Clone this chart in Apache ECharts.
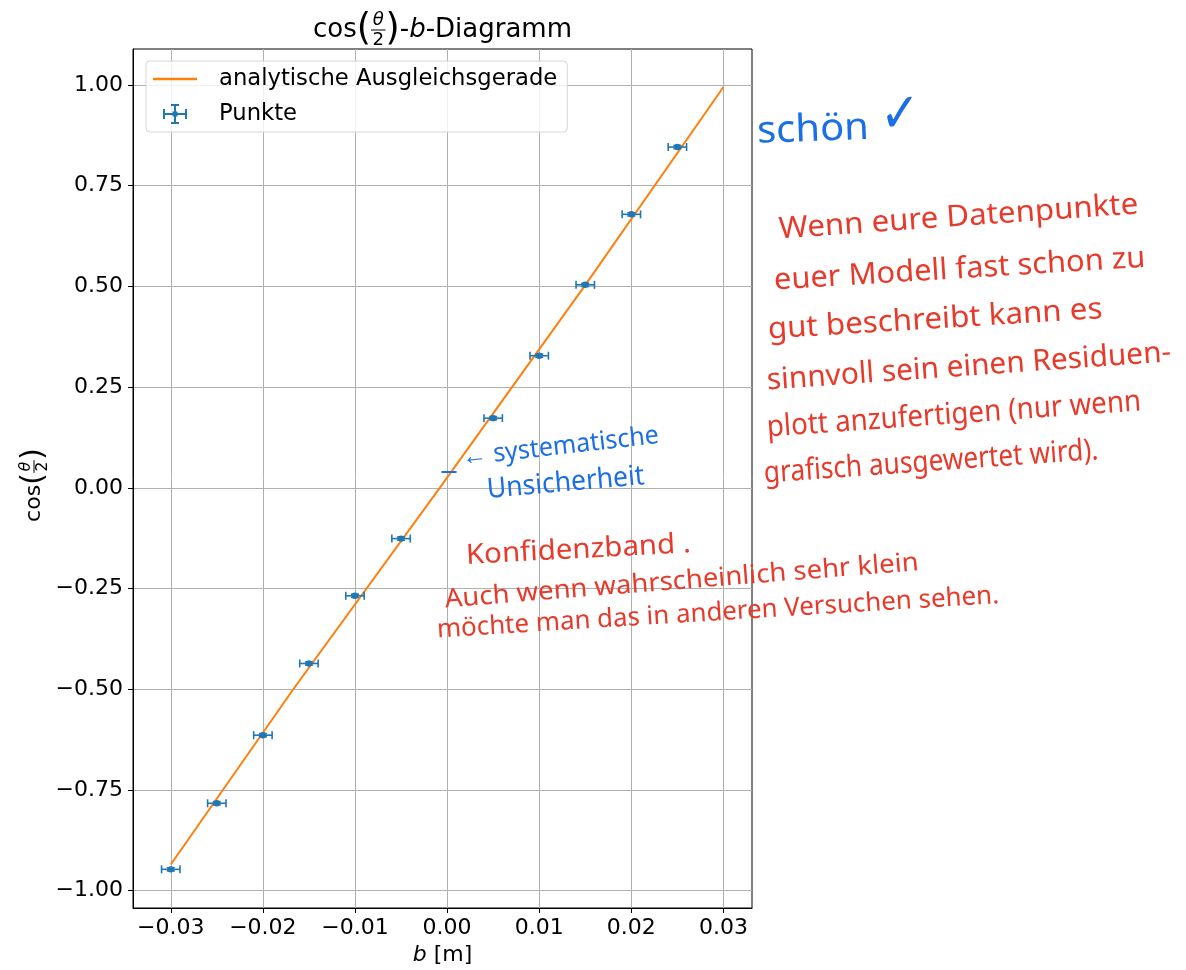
<!DOCTYPE html>
<html>
<head>
<meta charset="utf-8">
<title>cos(θ/2)-b-Diagramm</title>
<script src="https://cdn.jsdelivr.net/npm/echarts@6/dist/echarts.min.js"></script>
<style>
  html, body { margin: 0; padding: 0; background: #fff; }
  #main { width: 1186px; height: 970px; }
</style>
</head>
<body>
<div id="main"></div>
<script>
// Messpunkte
var bValues = [-0.03, -0.025, -0.02, -0.015, -0.01, -0.005, 0.005, 0.01, 0.015, 0.02, 0.025];
var cosValues = [-0.947, -0.783, -0.614, -0.436, -0.268, -0.126, 0.173, 0.328, 0.504, 0.679, 0.846];
var bErrors = [0.001, 0.001, 0.001, 0.001, 0.001, 0.001, 0.001, 0.001, 0.001, 0.001, 0.001];
var cosErrors = [0.004, 0.004, 0.004, 0.004, 0.004, 0.004, 0.004, 0.004, 0.004, 0.004, 0.004];

// Ausgleichsgerade
var fitB = [-0.03, -0.0167, -0.0008, 0.0149, 0.03];
var fitCos = [-0.935, -0.5, 0, 0.5, 0.995];

// Achsen
var xTicks = [-0.03, -0.02, -0.01, 0, 0.01, 0.02, 0.03];
var yTicks = [-1, -0.75, -0.5, -0.25, 0, 0.25, 0.5, 0.75, 1];

var FONT = '"DejaVu Sans", sans-serif';
var RED = '#e83a2b';
var BLUE = '#1b6fe6';

var ctx = document.createElement('canvas').getContext('2d');
function textWidth(s, font) {
  ctx.font = font;
  return ctx.measureText(s).width;
}

function fmt(v) {
  return v.toFixed(2).replace('-', '\u2212');
}

// baut cos(θ/2) + Rest als graphic-Kinder, Mittellinie bei y=0
function mathLabel(fs, rest) {
  var kids = [];
  var x = 0;
  function put(str, size, style, dx, dy) {
    var f = (style || 'normal') + ' ' + size + 'px ' + FONT;
    kids.push({
      type: 'text', x: x + (dx || 0), y: dy || 0,
      style: { text: str, font: f, fill: '#000', align: 'left', verticalAlign: 'middle',
               textAlign: 'left', textVerticalAlign: 'middle' }
    });
    x += textWidth(str, f);
  }
  put('cos', fs);
  put('(', fs * 1.4, 'normal', 0, fs * 0.02);
  var small = fs * 0.7;
  var fTheta = 'italic ' + small + 'px ' + FONT;
  var w = Math.max(textWidth('\u03b8', fTheta), textWidth('2', small + 'px ' + FONT)) + 3;
  kids.push({ type: 'text', x: x + w / 2, y: -fs * 0.36,
    style: { text: '\u03b8', font: fTheta, fill: '#000', align: 'center', verticalAlign: 'middle',
             textAlign: 'center', textVerticalAlign: 'middle' } });
  kids.push({ type: 'line', shape: { x1: x, y1: 0, x2: x + w, y2: 0 },
    style: { stroke: '#000', lineWidth: 1 } });
  kids.push({ type: 'text', x: x + w / 2, y: fs * 0.4,
    style: { text: '2', font: small + 'px ' + FONT, fill: '#000', align: 'center', verticalAlign: 'middle',
             textAlign: 'center', textVerticalAlign: 'middle' } });
  x += w;
  put(')', fs * 1.4, 'normal', 0, fs * 0.02);
  (rest || []).forEach(function (r) { put(r[0], fs, r[1]); });
  return { children: kids, width: x };
}

var titleMath = mathLabel(26, [['-'], ['b', 'italic'], ['-Diagramm']]);
var yMath = mathLabel(22, []);

// handschriftliche Notizen: [text, x, y, breite, größe, drehung°, farbe]
var notes = [
  ['sch\u00f6n', 757, 132, 112, 38, 2, BLUE],
  ['\u2713', 880, 116, 40, 56, 0, BLUE],
  ['Wenn eure Datenpunkte', 779, 230, 360, 30, 4, RED],
  ['euer Modell fast schon zu', 774, 281, 372, 30, 3.5, RED],
  ['gut beschreibt kann es', 768, 330, 335, 30, 3.5, RED],
  ['sinnvoll sein einen Residuen-', 767, 381, 405, 30, 4, RED],
  ['plott anzufertigen (nur wenn', 767, 428, 375, 30, 4, RED],
  ['grafisch ausgewertet wird).', 764, 474, 335, 30, 4, RED],
  ['\u2013', 440, 472, 18, 26, 0, BLUE],
  ['\u2190 systematische', 462, 458, 198, 26, 6.5, BLUE],
  ['Unsicherheit', 487, 490, 158, 28, 5, BLUE],
  ['Konfidenzband .', 466, 556, 225, 28, 3, RED],
  ['Auch wenn wahrscheinlich sehr klein', 445, 600, 475, 26, 4.5, RED],
  ['m\u00f6chte man das in anderen Versuchen sehen.', 437, 630, 563, 26, 3.5, RED]
];

var graphics = [
  { type: 'group', x: 442.5 - titleMath.width / 2, y: 30, children: titleMath.children },
  { type: 'group', x: 34, y: 485 + yMath.width / 2, rotation: Math.PI / 2, children: yMath.children }
];
notes.forEach(function (n) {
  var f = n[4] + 'px "Noto Sans", sans-serif';
  var sx = n[3] / textWidth(n[0], f);
  graphics.push({
    type: 'text', x: n[1], y: n[2], rotation: n[5] * Math.PI / 180, scaleX: sx, z: 100,
    style: { text: n[0], font: f, fill: n[6], align: 'left', verticalAlign: 'middle',
             textAlign: 'left', textVerticalAlign: 'middle' }
  });
});

var points = bValues.map(function (b, i) { return [b, cosValues[i], bErrors[i], cosErrors[i]]; });
var fitLine = fitB.map(function (b, i) { return [b, fitCos[i]]; });

var myChart = echarts.init(document.getElementById('main'));

var option = {
  animation: false,
  backgroundColor: '#fff',
  grid: {
    left: 133, right: 434, top: 49, bottom: 62,
    containLabel: false, outerBoundsMode: 'none',
    show: true, borderColor: '#000', borderWidth: 1
  },
  legend: {
    orient: 'vertical', left: 146, top: 61,
    padding: [5, 10, 5, 7],
    itemGap: 9, itemWidth: 44, itemHeight: 20,
    backgroundColor: 'rgba(255,255,255,0.8)',
    borderColor: '#d6d6d6', borderWidth: 1, borderRadius: 4,
    textStyle: { fontFamily: FONT, fontSize: 22.7, color: '#000', lineHeight: 26, padding: [0, 0, 0, 17] },
    data: [
      { name: 'analytische Ausgleichsgerade', icon: 'path://M0,0h40v2.4h-40z' },
      { name: 'Punkte', icon: 'path://M0,9h24v2h-24z M0,5h2v10h-2z M22,5h2v10h-2z M11,0h2v20h-2z M8,0h8v2h-8z M8,18h8v2h-8z M9.5,7.5h5v5h-5z' }
    ]
  },
  xAxis: {
    type: 'value', min: -0.0341, max: 0.0331,
    name: '{i|b} [m]', nameLocation: 'middle', nameGap: 36,
    nameTextStyle: { fontFamily: FONT, fontSize: 22, color: '#000', verticalAlign: 'top',
      rich: { i: { fontFamily: FONT, fontSize: 22, fontStyle: 'italic', color: '#000' } } },
    axisLine: { show: true, onZero: false, lineStyle: { color: '#000', width: 1 } },
    axisTick: { show: true, length: 5, customValues: xTicks, lineStyle: { color: '#000', width: 1 } },
    axisLabel: { customValues: xTicks, formatter: fmt, margin: 9,
      fontFamily: FONT, fontSize: 22, color: '#000' },
    splitLine: { show: true, lineStyle: { color: '#b0b0b0', width: 1 } }
  },
  yAxis: {
    type: 'value', min: -1.043, max: 1.0894,
    axisLine: { show: true, onZero: false, lineStyle: { color: '#000', width: 1 } },
    axisTick: { show: true, length: 5, customValues: yTicks, lineStyle: { color: '#000', width: 1 } },
    axisLabel: { customValues: yTicks, formatter: fmt, margin: 10,
      fontFamily: FONT, fontSize: 22, color: '#000' },
    splitLine: { show: true, lineStyle: { color: '#b0b0b0', width: 1 } }
  },
  series: [
    {
      name: 'analytische Ausgleichsgerade',
      type: 'line',
      data: fitLine,
      showSymbol: false,
      color: '#ff7f0e',
      lineStyle: { color: '#ff7f0e', width: 2 },
      z: 2
    },
    {
      name: 'Punkte',
      type: 'custom',
      color: '#1f77b4',
      itemStyle: { color: '#1f77b4' },
      encode: { x: 0, y: 1 },
      data: points,
      z: 3,
      renderItem: function (params, api) {
        var x = api.value(0), y = api.value(1), ex = api.value(2), ey = api.value(3);
        var c = api.coord([x, y]);
        var l = api.coord([x - ex, y]);
        var r = api.coord([x + ex, y]);
        var t = api.coord([x, y + ey]);
        var b = api.coord([x, y - ey]);
        var st = { stroke: '#1f77b4', lineWidth: 1.6 };
        return {
          type: 'group',
          children: [
            { type: 'line', shape: { x1: l[0], y1: l[1], x2: r[0], y2: r[1] }, style: st },
            { type: 'line', shape: { x1: l[0], y1: l[1] - 4, x2: l[0], y2: l[1] + 4 }, style: st },
            { type: 'line', shape: { x1: r[0], y1: r[1] - 4, x2: r[0], y2: r[1] + 4 }, style: st },
            { type: 'line', shape: { x1: t[0], y1: t[1], x2: b[0], y2: b[1] }, style: st },
            { type: 'line', shape: { x1: t[0] - 4, y1: t[1], x2: t[0] + 4, y2: t[1] }, style: st },
            { type: 'line', shape: { x1: b[0] - 4, y1: b[1], x2: b[0] + 4, y2: b[1] }, style: st },
            { type: 'circle', shape: { cx: c[0], cy: c[1], r: 3.2 }, style: { fill: '#1f77b4' } }
          ]
        };
      }
    }
  ],
  graphic: graphics
};

myChart.setOption(option);
</script>
</body>
</html>
